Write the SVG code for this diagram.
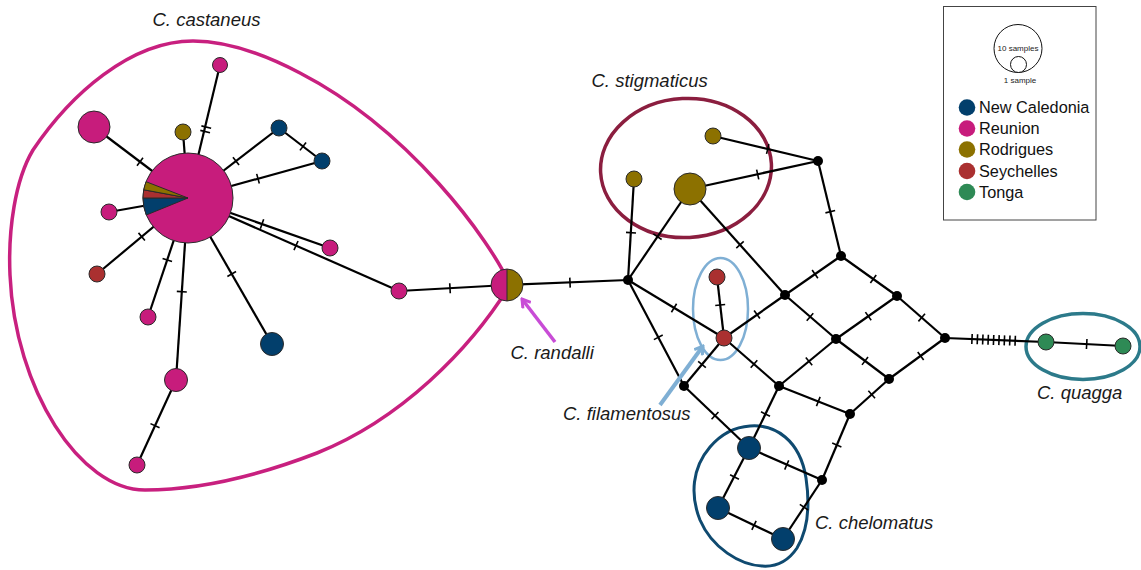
<svg xmlns="http://www.w3.org/2000/svg" xmlns:xlink="http://www.w3.org/1999/xlink" width="1141" height="570" viewBox="0 0 1141 570">
<style>
.e{stroke:#000;stroke-width:2.2;fill:none}
.nd{stroke:#2a2a2a;stroke-width:1}
.re{fill:#C71C7C}.nc{fill:#023F6C}.ro{fill:#8C7100}.se{fill:#AA3030}.to{fill:#2E8A55}.bk{fill:#000}
.lbl{font-family:"Liberation Sans",Arial,sans-serif;font-style:italic;font-size:18.5px;fill:#1a1a1a}
.leg{font-family:"Liberation Sans",Arial,sans-serif;font-size:16.3px;fill:#111}
.sm{font-family:"Liberation Sans",Arial,sans-serif;font-size:8px;fill:#222}
.enc{fill:none}
</style>
<defs>
<line id="tk" x1="0" y1="-5" x2="0" y2="5" stroke="#000" stroke-width="1.6"/>
<g id="tk2"><line x1="-2.3" y1="-5" x2="-2.3" y2="5" stroke="#000" stroke-width="1.6"/><line x1="2.3" y1="-5" x2="2.3" y2="5" stroke="#000" stroke-width="1.6"/></g>
<marker id="arrB" viewBox="0 0 12 12" refX="10" refY="6" markerWidth="12" markerHeight="12" markerUnits="userSpaceOnUse" orient="auto"><path d="M2,1 L10,6 L2,11" fill="none" stroke="#7FAFD4" stroke-width="3"/></marker>
<marker id="arrP" viewBox="0 0 12 12" refX="10" refY="6" markerWidth="12" markerHeight="12" markerUnits="userSpaceOnUse" orient="auto"><path d="M2,1 L10,6 L2,11" fill="none" stroke="#C84CD6" stroke-width="3"/></marker>
</defs>
<rect width="1141" height="570" fill="#fff"/>

<g id="enclosures">
<path id="enc-castaneus" class="enc" stroke="#C8207F" stroke-width="3.5" d="M510,285 C490,240 410,130 300,73 C260,52 225,41 193,41 C130,41 70,95 33,150 C15,180 8,230 10,275 C15,390 80,490 145,490 C200,490 260,475 317,453 C400,420 470,350 510,285 Z"/>
<ellipse id="enc-stigmaticus" class="enc" stroke="#8B1E3F" stroke-width="3.5" cx="686" cy="168" rx="85.5" ry="69.5" transform="rotate(-3 686 168)"/>
<ellipse id="enc-filamentosus" class="enc" stroke="#7FAFD4" stroke-width="2.5" cx="720.5" cy="309" rx="27.5" ry="51"/>
<path id="enc-chelomatus" class="enc" stroke="#0F4A70" stroke-width="3" d="M750,426 C775,424 800,440 806,478 C810,505 808,530 797,548 C787,563 775,567 762,566 C740,565 712,548 700,520 C690,495 692,468 710,447 C722,433 735,427 750,426 Z"/>
<ellipse id="enc-quagga" class="enc" stroke="#2C7A8A" stroke-width="3.5" cx="1083" cy="346.5" rx="57" ry="33"/>
</g>

<g id="connectors">
<line class="e" x1="188" y1="198" x2="220" y2="65"/>
<line class="e" x1="188" y1="198" x2="94" y2="127"/>
<line class="e" x1="188" y1="198" x2="183" y2="132"/>
<line class="e" x1="188" y1="198" x2="279" y2="128"/>
<line class="e" x1="279" y1="128" x2="322" y2="161"/>
<line class="e" x1="188" y1="198" x2="322" y2="161"/>
<line class="e" x1="188" y1="198" x2="330" y2="248"/>
<line class="e" x1="188" y1="198" x2="399" y2="291"/>
<line class="e" x1="188" y1="198" x2="109" y2="212"/>
<line class="e" x1="188" y1="198" x2="97" y2="274"/>
<line class="e" x1="188" y1="198" x2="148" y2="317"/>
<line class="e" x1="188" y1="198" x2="176" y2="380"/>
<line class="e" x1="176" y1="380" x2="137" y2="465"/>
<line class="e" x1="188" y1="198" x2="272" y2="344"/>
<line class="e" x1="399" y1="291" x2="507" y2="285"/>
<line class="e" x1="507" y1="285" x2="628" y2="280"/>
<line class="e" x1="713" y1="136" x2="818" y2="161"/>
<line class="e" x1="690" y1="189" x2="818" y2="161"/>
<line class="e" x1="818" y1="161" x2="841" y2="256"/>
<line class="e" x1="634" y1="179" x2="628" y2="280"/>
<line class="e" x1="690" y1="189" x2="628" y2="280"/>
<line class="e" x1="690" y1="189" x2="785" y2="295"/>
<line class="e" x1="841" y1="256" x2="785" y2="295"/>
<line class="e" x1="628" y1="280" x2="724" y2="338"/>
<line class="e" x1="628" y1="280" x2="684" y2="386"/>
<line class="e" x1="717" y1="277" x2="724" y2="338"/>
<line class="e" x1="724" y1="338" x2="785" y2="295"/>
<line class="e" x1="724" y1="338" x2="684" y2="386"/>
<line class="e" x1="724" y1="338" x2="779" y2="386"/>
<line class="e" x1="785" y1="295" x2="836" y2="339"/>
<line class="e" x1="841" y1="256" x2="897" y2="296"/>
<line class="e" x1="897" y1="296" x2="836" y2="339"/>
<line class="e" x1="897" y1="296" x2="945" y2="338"/>
<line class="e" x1="836" y1="339" x2="779" y2="386"/>
<line class="e" x1="836" y1="339" x2="889" y2="379"/>
<line class="e" x1="889" y1="379" x2="945" y2="338"/>
<line class="e" x1="779" y1="386" x2="850" y2="414"/>
<line class="e" x1="889" y1="379" x2="850" y2="414"/>
<line class="e" x1="684" y1="386" x2="749" y2="448"/>
<line class="e" x1="779" y1="386" x2="749" y2="448"/>
<line class="e" x1="850" y1="414" x2="822" y2="480"/>
<line class="e" x1="749" y1="448" x2="822" y2="480"/>
<line class="e" x1="749" y1="448" x2="718" y2="508"/>
<line class="e" x1="718" y1="508" x2="783" y2="539"/>
<line class="e" x1="822" y1="480" x2="783" y2="539"/>
<line class="e" x1="945" y1="338" x2="1046" y2="342"/>
<line class="e" x1="1046" y1="342" x2="1123" y2="346"/>
<g id="ticks">
<use href="#tk2" transform="translate(205.7 129.3) rotate(-76.5)"/>
<use href="#tk" transform="translate(140 161.8) rotate(37.1)"/>
<use href="#tk" transform="translate(236 161.1) rotate(-37.6)"/>
<use href="#tk" transform="translate(303 146.4) rotate(37.5)"/>
<use href="#tk" transform="translate(258 178.7) rotate(-15.4)"/>
<use href="#tk" transform="translate(262 224) rotate(19.4)"/>
<use href="#tk" transform="translate(296 245.6) rotate(23.8)"/>
<use href="#tk" transform="translate(141.7 236.7) rotate(140.1)"/>
<use href="#tk" transform="translate(167.3 260) rotate(108.6)"/>
<use href="#tk" transform="translate(181.8 291.7) rotate(93.8)"/>
<use href="#tk" transform="translate(155 425.7) rotate(114.6)"/>
<use href="#tk" transform="translate(231.7 274) rotate(60.1)"/>
<use href="#tk" transform="translate(450 288.2) rotate(-3.2)"/>
<use href="#tk" transform="translate(570 282.6) rotate(-2.4)"/>
<use href="#tk" transform="translate(767.7 149) rotate(13.4)"/>
<use href="#tk" transform="translate(757.7 174.5) rotate(-12.3)"/>
<use href="#tk" transform="translate(830.3 211.7) rotate(76.4)"/>
<use href="#tk" transform="translate(631 232.7) rotate(93.4)"/>
<use href="#tk" transform="translate(657.5 236.7) rotate(124.3)"/>
<use href="#tk" transform="translate(740 244.8) rotate(48.1)"/>
<use href="#tk" transform="translate(815 274.1) rotate(145.1)"/>
<use href="#tk" transform="translate(674 308) rotate(31.1)"/>
<use href="#tk" transform="translate(658.3 337.3) rotate(62.2)"/>
<use href="#tk" transform="translate(720.2 305) rotate(83.5)"/>
<use href="#tk" transform="translate(757 314.5) rotate(-35.2)"/>
<use href="#tk" transform="translate(702 364.5) rotate(129.8)"/>
<use href="#tk" transform="translate(754 364) rotate(41.1)"/>
<use href="#tk" transform="translate(810 317) rotate(40.8)"/>
<use href="#tk" transform="translate(873.3 279) rotate(35.5)"/>
<use href="#tk" transform="translate(868.3 316.2) rotate(144.8)"/>
<use href="#tk" transform="translate(921.7 317.6) rotate(41.2)"/>
<use href="#tk" transform="translate(809 361.3) rotate(140.5)"/>
<use href="#tk" transform="translate(865 360.9) rotate(37)"/>
<use href="#tk" transform="translate(920.7 356) rotate(-36.2)"/>
<use href="#tk" transform="translate(818.3 401.5) rotate(21.5)"/>
<use href="#tk" transform="translate(871.7 394.5) rotate(138.1)"/>
<use href="#tk" transform="translate(715 415.6) rotate(43.6)"/>
<use href="#tk" transform="translate(765.5 414) rotate(115.8)"/>
<use href="#tk" transform="translate(836.8 445) rotate(113)"/>
<use href="#tk" transform="translate(786.7 465) rotate(23.7)"/>
<use href="#tk" transform="translate(734.5 477) rotate(117.3)"/>
<use href="#tk" transform="translate(754 525.3) rotate(25.5)"/>
<use href="#tk" transform="translate(804 507.2) rotate(123.5)"/>
<use href="#tk" transform="translate(1086.7 344) rotate(3)"/>
<use href="#tk" transform="translate(972 339.07) rotate(2.3)"/>
<use href="#tk" transform="translate(977.4 339.28) rotate(2.3)"/>
<use href="#tk" transform="translate(982.8 339.5) rotate(2.3)"/>
<use href="#tk" transform="translate(988.2 339.71) rotate(2.3)"/>
<use href="#tk" transform="translate(993.6 339.92) rotate(2.3)"/>
<use href="#tk" transform="translate(999 340.14) rotate(2.3)"/>
<use href="#tk" transform="translate(1004.4 340.35) rotate(2.3)"/>
<use href="#tk" transform="translate(1009.8 340.56) rotate(2.3)"/>
<use href="#tk" transform="translate(1015.2 340.78) rotate(2.3)"/>
</g>
<line id="arrow-randalli" x1="555" y1="342" x2="522" y2="299" stroke="#C84CD6" stroke-width="3.5" marker-end="url(#arrP)"/>
<line id="arrow-filamentosus" x1="660" y1="405" x2="703" y2="346" stroke="#7FAFD4" stroke-width="4" marker-end="url(#arrB)"/>
</g>

<g id="node-pie-main">
<circle class="re nd" cx="188" cy="198" r="45"/>
<path class="nc nd" d="M188,198 L146.3,215 A45,45 0 0 1 143,198 Z"/>
<path class="se nd" d="M188,198 L143,198 A45,45 0 0 1 143.8,189.8 Z"/>
<path class="ro nd" d="M188,198 L143.8,189.8 A45,45 0 0 1 146.1,181.7 Z"/>
</g>
<g id="node-p1"><circle class="re nd" cx="220" cy="65" r="7.5"/></g>
<g id="node-p2"><circle class="re nd" cx="94" cy="127" r="16"/></g>
<g id="node-p3"><circle class="ro nd" cx="183" cy="132" r="8"/></g>
<g id="node-p4"><circle class="nc nd" cx="279" cy="128" r="8"/></g>
<g id="node-p5"><circle class="nc nd" cx="322" cy="161" r="8"/></g>
<g id="node-p6"><circle class="re nd" cx="109" cy="212" r="8"/></g>
<g id="node-p7"><circle class="se nd" cx="97" cy="274" r="8"/></g>
<g id="node-p8"><circle class="re nd" cx="330" cy="248" r="8"/></g>
<g id="node-p9"><circle class="re nd" cx="148" cy="317" r="8"/></g>
<g id="node-p10"><circle class="nc nd" cx="272" cy="344" r="11.5"/></g>
<g id="node-p11"><circle class="re nd" cx="176" cy="380" r="11.5"/></g>
<g id="node-p12"><circle class="re nd" cx="137" cy="465" r="8"/></g>
<g id="node-p13"><circle class="re nd" cx="399" cy="291" r="8"/></g>
<g id="node-randalli">
<path class="re" d="M507,269 A16,16 0 0 0 507,301 Z"/>
<path class="ro" d="M507,269 A16,16 0 0 1 507,301 Z"/>
<line x1="507" y1="269" x2="507" y2="301" stroke="#2a2a2a" stroke-width="1"/>
<circle cx="507" cy="285" r="16" fill="none" stroke="#2a2a2a" stroke-width="1"/>
</g>
<g id="node-s1"><circle class="ro nd" cx="713" cy="136" r="8"/></g>
<g id="node-s2"><circle class="ro nd" cx="634" cy="179" r="8"/></g>
<g id="node-s3"><circle class="ro nd" cx="690" cy="189" r="16"/></g>
<g id="node-f1"><circle class="se nd" cx="717" cy="277" r="8"/></g>
<g id="node-f2"><circle class="se nd" cx="724" cy="338" r="8"/></g>
<g id="node-a"><circle class="bk" cx="818" cy="161" r="5"/></g>
<g id="node-b"><circle class="bk" cx="841" cy="256" r="5"/></g>
<g id="node-c"><circle class="bk" cx="628" cy="280" r="5"/></g>
<g id="node-d"><circle class="bk" cx="785" cy="295" r="5"/></g>
<g id="node-e"><circle class="bk" cx="897" cy="296" r="5"/></g>
<g id="node-f"><circle class="bk" cx="945" cy="338" r="5"/></g>
<g id="node-g"><circle class="bk" cx="836" cy="339" r="5"/></g>
<g id="node-h"><circle class="bk" cx="889" cy="379" r="5"/></g>
<g id="node-i"><circle class="bk" cx="779" cy="386" r="5"/></g>
<g id="node-j"><circle class="bk" cx="850" cy="414" r="5"/></g>
<g id="node-k"><circle class="bk" cx="684" cy="386" r="5"/></g>
<g id="node-l"><circle class="bk" cx="822" cy="480" r="5"/></g>
<g id="node-n1"><circle class="nc nd" cx="749" cy="448" r="11.5"/></g>
<g id="node-n2"><circle class="nc nd" cx="718" cy="508" r="11.5"/></g>
<g id="node-n3"><circle class="nc nd" cx="783" cy="539" r="11.5"/></g>
<g id="node-q1"><circle class="to nd" cx="1046" cy="342" r="8"/></g>
<g id="node-q2"><circle class="to nd" cx="1123" cy="346" r="8"/></g>

<g id="labels">
<text class="lbl" x="152.5" y="26">C. castaneus</text>
<text class="lbl" x="591.5" y="87">C. stigmaticus</text>
<text class="lbl" x="510.5" y="358.5">C. randalli</text>
<text class="lbl" x="563" y="420">C. filamentosus</text>
<text class="lbl" x="815" y="528.5">C. chelomatus</text>
<text class="lbl" x="1037" y="398.5">C. quagga</text>
</g>

<g id="legend">
<rect x="943.5" y="6.5" width="152.5" height="213.5" fill="#fff" stroke="#444" stroke-width="1"/>
<circle cx="1018" cy="48.5" r="24" fill="none" stroke="#111" stroke-width="1"/>
<circle cx="1018.5" cy="64.5" r="8" fill="#fff" stroke="#111" stroke-width="1"/>
<text class="sm" x="1018" y="51" text-anchor="middle">10 samples</text>
<text class="sm" x="1020" y="83" text-anchor="middle">1 sample</text>
<circle class="nc" cx="967" cy="107.5" r="8.3"/>
<circle class="re" cx="967" cy="128.5" r="8.3"/>
<circle class="ro" cx="967" cy="149.5" r="8.3"/>
<circle class="se" cx="967" cy="171" r="8.3"/>
<circle class="to" cx="967" cy="192" r="8.3"/>
<text class="leg" x="979" y="113">New Caledonia</text>
<text class="leg" x="979" y="134">Reunion</text>
<text class="leg" x="979" y="155">Rodrigues</text>
<text class="leg" x="979" y="176.5">Seychelles</text>
<text class="leg" x="979" y="197.5">Tonga</text>
</g>
</svg>
